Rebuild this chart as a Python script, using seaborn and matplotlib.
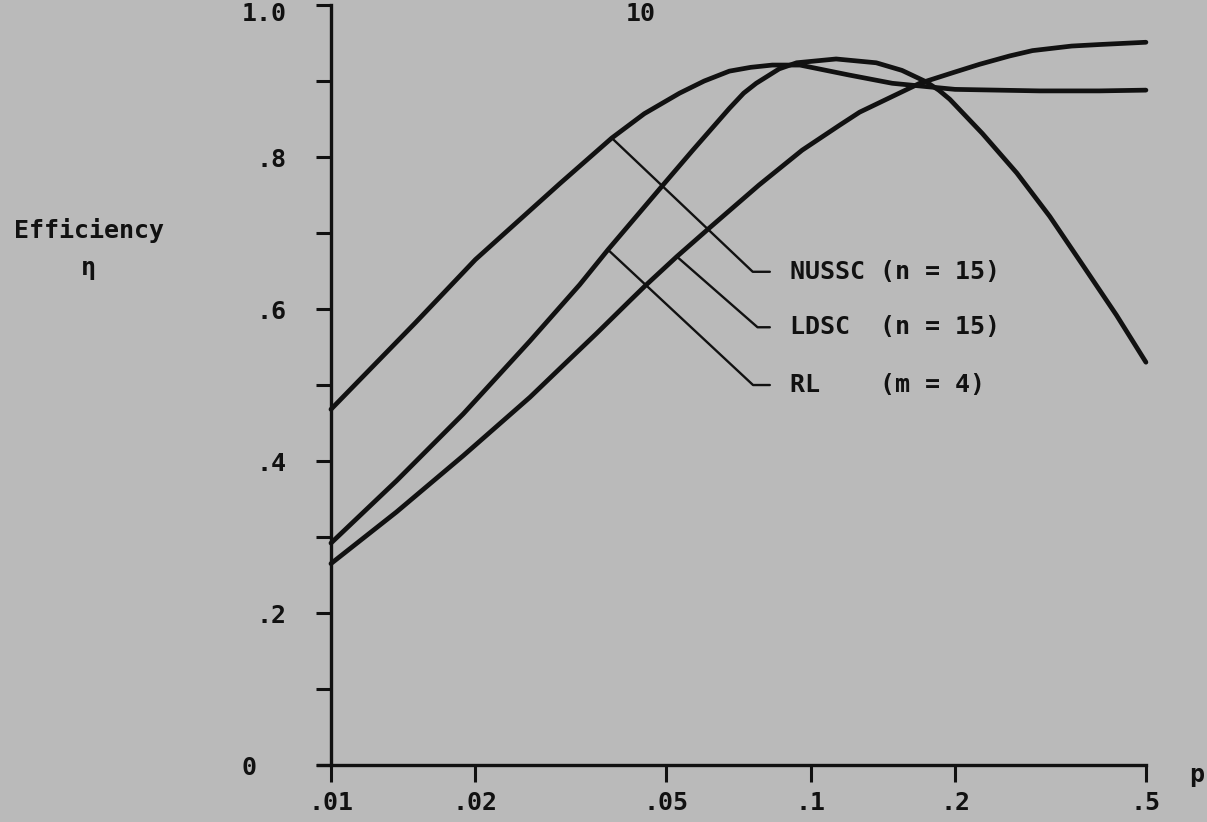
import numpy as np
import pandas as pd
import matplotlib
matplotlib.use('Agg')
import matplotlib.pyplot as plt
import matplotlib.transforms as mtransforms
import seaborn as sns
from matplotlib.ticker import FixedLocator, NullLocator

# values (efficiency vs p)
nussc_p = [0.01, 0.015, 0.02, 0.03, 0.0385, 0.045, 0.0533, 0.06, 0.0677,
           0.075, 0.0832, 0.095, 0.12, 0.148, 0.2, 0.3, 0.4, 0.5]
nussc_eff = [0.468, 0.582, 0.665, 0.765, 0.825, 0.857, 0.884, 0.900, 0.913,
             0.918, 0.921, 0.921, 0.908, 0.897, 0.889, 0.887, 0.887, 0.888]

ldsc_p = [0.01, 0.0137, 0.01887, 0.026, 0.0305, 0.0358, 0.042, 0.0451,
          0.0526, 0.0616, 0.078, 0.096, 0.115, 0.1265, 0.1688, 0.198,
          0.225, 0.26, 0.29, 0.35, 0.4, 0.5]
ldsc_eff = [0.265, 0.333, 0.407, 0.484, 0.526, 0.568, 0.611, 0.630,
            0.669, 0.707, 0.763, 0.809, 0.842, 0.859, 0.897, 0.911,
            0.922, 0.933, 0.940, 0.946, 0.948, 0.951]

rl_p = [0.01, 0.0137, 0.01887, 0.026, 0.033, 0.0378, 0.0492, 0.0568, 0.0677,
        0.0725, 0.077, 0.086, 0.0935, 0.113, 0.137, 0.155, 0.174, 0.185,
        0.195, 0.228, 0.269, 0.315, 0.369, 0.434, 0.5]
rl_eff = [0.292, 0.374, 0.462, 0.558, 0.632, 0.678, 0.763, 0.809, 0.864,
          0.884, 0.897, 0.916, 0.924, 0.929, 0.924, 0.914, 0.899, 0.888,
          0.876, 0.831, 0.779, 0.722, 0.658, 0.592, 0.530]

x_ticks = [0.01, 0.02, 0.05, 0.1, 0.2, 0.5]
x_labels = ['.01', '.02', '.05', '.1', '.2', '.5']
y_ticks = [0, 0.2, 0.4, 0.6, 0.8, 1.0]
y_labels = ['0  ', '.2', '.4', '.6', '.8', '1.0']
y_minor = [0.1, 0.3, 0.5, 0.7, 0.9]

labels = ['NUSSC (n = 15)', 'LDSC  (n = 15)', 'RL    (m = 4)']
label_p = [0.0385, 0.0526, 0.0378]   # where each pointer touches its curve

df = pd.concat([
    pd.DataFrame({'p': nussc_p, 'eff': nussc_eff, 'scheme': 'NUSSC'}),
    pd.DataFrame({'p': ldsc_p, 'eff': ldsc_eff, 'scheme': 'LDSC'}),
    pd.DataFrame({'p': rl_p, 'eff': rl_eff, 'scheme': 'RL'}),
], ignore_index=True)

bg = '#bababa'
ink = '#111111'

sns.set_style('ticks')
plt.rcParams['font.family'] = ['DejaVu Sans Mono']
plt.rcParams['font.weight'] = 'bold'
plt.rcParams['text.color'] = ink

fig = plt.figure(figsize=(12.07, 8.22), dpi=100, facecolor=bg)
ax = fig.add_axes([0.2742, 0.0693, 0.6752, 0.9246], facecolor=bg)

sns.lineplot(data=df, x='p', y='eff', units='scheme', estimator=None,
             sort=False, color=ink, lw=3.4, ax=ax)
for ln in ax.lines:
    ln.set_clip_on(False)
    ln.set_solid_capstyle('round')
    ln.set_solid_joinstyle('round')

ax.set_xscale('log')
ax.set_xlim(0.01, 0.5)
ax.set_ylim(0, 1.0)
ax.set_xlabel('')
ax.set_ylabel('')

ax.xaxis.set_major_locator(FixedLocator(x_ticks))
ax.xaxis.set_minor_locator(NullLocator())
ax.set_xticklabels(x_labels, fontsize=18, fontweight='bold')
ax.yaxis.set_major_locator(FixedLocator(y_ticks))
ax.yaxis.set_minor_locator(FixedLocator(y_minor))
ax.set_yticklabels(y_labels, fontsize=18, fontweight='bold')

ax.tick_params(axis='x', which='major', direction='out', length=12, width=2.2,
               pad=7, color=ink, labelcolor=ink)
ax.tick_params(axis='y', which='both', direction='out', length=11, width=2.2,
               pad=21, color=ink, labelcolor=ink)

# the "1.0" label sits a little below its tick in the original
top_lab = ax.get_yticklabels()[-1]
top_lab.set_transform(top_lab.get_transform() +
                      mtransforms.ScaledTranslation(0, -4.5 / 72, fig.dpi_scale_trans))

for s in ['top', 'right']:
    ax.spines[s].set_visible(False)
for s in ['left', 'bottom']:
    ax.spines[s].set_linewidth(2.4)
    ax.spines[s].set_color(ink)
ax.spines['bottom'].set_bounds(0.0094, 0.5)

# pointers from the curves to the labels
series = {'NUSSC': (nussc_p, nussc_eff), 'LDSC': (ldsc_p, ldsc_eff),
          'RL': (rl_p, rl_eff)}
label_y = [0.649, 0.576, 0.500]
angles = [-43.5, -41.2, -43.0]
for (name, (px, py)), lab, lp, ly, ang in zip(series.items(), labels, label_p,
                                              label_y, angles):
    yv = np.interp(np.log10(lp), np.log10(px), py)
    ax.annotate(lab, xy=(lp, yv), xycoords='data',
                xytext=(0.563, ly), textcoords='axes fraction',
                ha='left', va='center', fontsize=18, fontweight='bold',
                arrowprops=dict(arrowstyle='-', lw=1.7, color=ink,
                                relpos=(0, 0.5), shrinkA=12, shrinkB=0,
                                connectionstyle=f'angle,angleA=180,angleB={ang},rad=0'))

fig.text(0.0737, 0.720, 'Efficiency', ha='center', va='center',
         fontsize=18, fontweight='bold')
fig.text(0.0730, 0.674, 'η', ha='center', va='center',
         fontsize=18, fontweight='bold')
fig.text(0.991, 0.057, 'p', ha='center', va='center',
         fontsize=18, fontweight='bold')
fig.text(0.531, 0.998, '10', ha='center', va='top',
         fontsize=18, fontweight='bold')

fig.savefig('out.png', dpi=100, facecolor=bg)
plt.close(fig)
